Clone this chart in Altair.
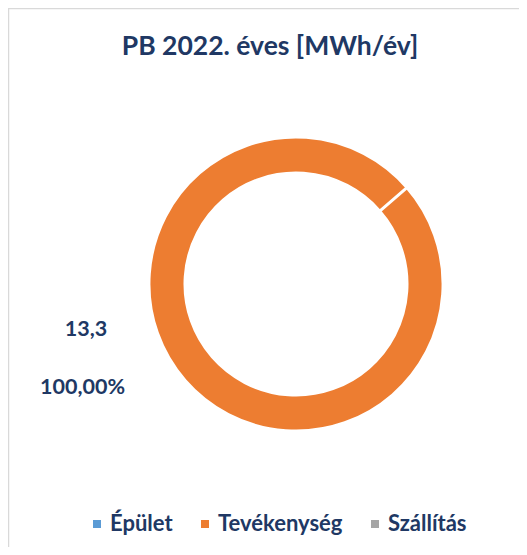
import math
import altair as alt
import pandas as pd

# ---- data ----
categories = ["Épület", "Tevékenység", "Szállítás"]
values = [0.0, 13.3, 0.0]
colors = ["#5B9BD5", "#ED7D31", "#A5A5A5"]
title_text = ["PB 2022. éves [MWh/év]"]

total = sum(values)
df = pd.DataFrame({
    "cat": categories,
    "value": values,
    "order": list(range(len(categories))),
})
df["pct"] = df["value"] / total
df["vlabel"] = df["value"].map(lambda v: f"{v:.1f}".replace(".", ","))
df["plabel"] = df["pct"].map(lambda p: f"{p*100:.2f}%".replace(".", ","))

FONT = "Lato"
NAVY = "#203864"
BORDER = "#D9D9D9"
W, H = 511, 539
start = math.radians(49)

base = alt.Chart(df)

arc = base.mark_arc(innerRadius=111, outerRadius=147, stroke="white", strokeWidth=3).encode(
    theta=alt.Theta("value:Q", stack=True,
                    scale=alt.Scale(range=[start, start + 2 * math.pi])),
    color=alt.Color("cat:N",
                    scale=alt.Scale(domain=categories, range=colors),
                    legend=alt.Legend(
                        title=None, orient="none", direction="horizontal",
                        legendX=78, legendY=505, symbolType="square",
                        symbolSize=64, symbolStrokeWidth=0,
                        labelFont=FONT, labelFontSize=22, labelFontWeight="bold",
                        labelColor=NAVY, columnPadding=21, labelOffset=2,
                        padding=0)),
    order=alt.Order("order:Q"),
    x=alt.value(288),
    y=alt.value(276),
)

vtext = base.transform_filter("datum.value > 0").mark_text(
    font=FONT, fontSize=21.5, fontWeight="bold", color=NAVY, align="center", baseline="alphabetic"
).encode(text="vlabel:N", x=alt.value(78), y=alt.value(327.5))

ptext = base.transform_filter("datum.value > 0").mark_text(
    font=FONT, fontSize=21.5, fontWeight="bold", color=NAVY, align="center", baseline="alphabetic"
).encode(text="plabel:N", x=alt.value(74.5), y=alt.value(386))

ttext = alt.Chart(pd.DataFrame({"t": title_text})).mark_text(
    font=FONT, fontSize=26.5, fontWeight="bold", color=NAVY, align="center", baseline="alphabetic"
).encode(text="t:N", x=alt.value(262), y=alt.value(47))

top_line = alt.Chart(pd.DataFrame({"t": title_text})).mark_rule(
    color=BORDER, strokeWidth=1.5
).encode(x=alt.value(0), x2=alt.value(W), y=alt.value(0.5))

left_line = alt.Chart(pd.DataFrame({"t": title_text})).mark_rule(
    color=BORDER, strokeWidth=1.5
).encode(x=alt.value(0.5), y=alt.value(0), y2=alt.value(H))

chart = alt.layer(top_line, left_line, arc, vtext, ptext, ttext).properties(
    width=W, height=H,
    autosize=alt.AutoSizeParams(type="none"),
    padding=0,
).configure_view(stroke=None)

chart.save("out.html", embed_options={"renderer": "svg", "actions": False})
